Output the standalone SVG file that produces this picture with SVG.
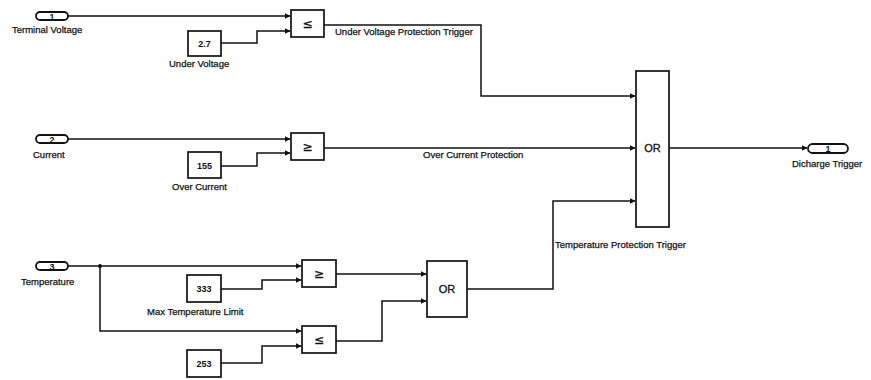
<svg xmlns="http://www.w3.org/2000/svg" width="871" height="380" viewBox="0 0 871 380">
<style>
.blk{fill:#fff;stroke:#111;stroke-width:1.7}
.port{fill:#fff;stroke:#111;stroke-width:1.8}
.w{fill:none;stroke:#111;stroke-width:1.5}
.lbl{font-family:"Liberation Sans",Arial,sans-serif;font-size:9.5px;fill:#111;stroke:#111;stroke-width:0.25}
.num{font-family:"Liberation Sans",Arial,sans-serif;font-size:9px;font-weight:bold;fill:#111;text-anchor:middle}
.sym{font-family:"DejaVu Sans",sans-serif;font-size:12px;fill:#111;text-anchor:middle;stroke:#111;stroke-width:0.3}
.or{font-family:"Liberation Sans",Arial,sans-serif;font-size:11px;fill:#111;text-anchor:middle;stroke:#111;stroke-width:0.3}
</style>
<defs>
<marker id="ah" markerWidth="6" markerHeight="6" refX="5.5" refY="3" orient="auto" markerUnits="userSpaceOnUse"><path d="M0,0 L6,3 L0,6 z" fill="#111"/></marker>
</defs>
<rect width="871" height="380" fill="#fff"/>
<g id="connectors">
<path class="w" d="M68,16 H290" marker-end="url(#ah)"/>
<path class="w" d="M221,43 H257 V31 H290" marker-end="url(#ah)"/>
<path class="w" d="M324,25 H481 V96 H635" marker-end="url(#ah)"/>
<path class="w" d="M68,139 H290" marker-end="url(#ah)"/>
<path class="w" d="M221,166 H257 V153 H290" marker-end="url(#ah)"/>
<path class="w" d="M324,148 H635" marker-end="url(#ah)"/>
<path class="w" d="M669,148 H807" marker-end="url(#ah)"/>
<path class="w" d="M68,266 H301" marker-end="url(#ah)"/>
<path class="w" d="M100,266 V331 H301" marker-end="url(#ah)"/>
<path class="w" d="M221,289 H262 V280 H301" marker-end="url(#ah)"/>
<path class="w" d="M221,363 H262 V346 H301" marker-end="url(#ah)"/>
<path class="w" d="M336,274 H426" marker-end="url(#ah)"/>
<path class="w" d="M336,341 H382 V301 H426" marker-end="url(#ah)"/>
<path class="w" d="M467,289 H553 V201 H635" marker-end="url(#ah)"/>
<circle cx="100" cy="266" r="2" fill="#111"/>
<text class="lbl" x="335" y="35">Under Voltage Protection Trigger</text>
<text class="lbl" x="423" y="158">Over Current Protection</text>
<text class="lbl" x="555" y="248">Temperature Protection Trigger</text>
</g>
<g id="in1">
<rect class="port" x="36" y="12" width="32" height="8" rx="4"/>
<text class="num" x="52" y="19.5">1</text>
<text class="lbl" x="12" y="33">Terminal Voltage</text>
</g>
<g id="c27">
<rect class="blk" x="188" y="31" width="33" height="25"/>
<text class="num" x="204.5" y="46.5">2.7</text>
<text class="lbl" x="169" y="67">Under Voltage</text>
</g>
<g id="le1">
<rect class="blk" x="291" y="10" width="33" height="27"/>
<text class="sym" x="307.5" y="28">≤</text>
</g>
<g id="in2">
<rect class="port" x="36" y="135" width="32" height="8" rx="4"/>
<text class="num" x="52" y="142.5">2</text>
<text class="lbl" x="33" y="158">Current</text>
</g>
<g id="c155">
<rect class="blk" x="188" y="152" width="33" height="26"/>
<text class="num" x="204.5" y="168.5">155</text>
<text class="lbl" x="172" y="190">Over Current</text>
</g>
<g id="ge1">
<rect class="blk" x="291" y="133" width="33" height="27"/>
<text class="sym" x="307.5" y="151">≥</text>
</g>
<g id="or1">
<rect class="blk" x="636" y="71" width="33" height="156"/>
<text class="or" x="652.5" y="152">OR</text>
</g>
<g id="out1">
<rect class="port" x="808" y="144" width="40" height="9" rx="4.5"/>
<text class="num" x="828" y="152">1</text>
<text class="lbl" x="792" y="167">Dicharge Trigger</text>
</g>
<g id="in3">
<rect class="port" x="36" y="262" width="32" height="8" rx="4"/>
<text class="num" x="52" y="269.5">3</text>
<text class="lbl" x="21" y="285">Temperature</text>
</g>
<g id="c333">
<rect class="blk" x="187" y="275" width="34" height="27"/>
<text class="num" x="204" y="291.5">333</text>
<text class="lbl" x="147" y="315">Max Temperature Limit</text>
</g>
<g id="ge2">
<rect class="blk" x="302" y="260" width="34" height="27"/>
<text class="sym" x="319" y="278">≥</text>
</g>
<g id="c253">
<rect class="blk" x="187" y="350" width="34" height="27"/>
<text class="num" x="204" y="366.5">253</text>
</g>
<g id="le2">
<rect class="blk" x="302" y="326" width="34" height="27"/>
<text class="sym" x="319" y="344">≤</text>
</g>
<g id="or2">
<rect class="blk" x="427" y="261" width="40" height="56"/>
<text class="or" x="447" y="293">OR</text>
</g>
</svg>
